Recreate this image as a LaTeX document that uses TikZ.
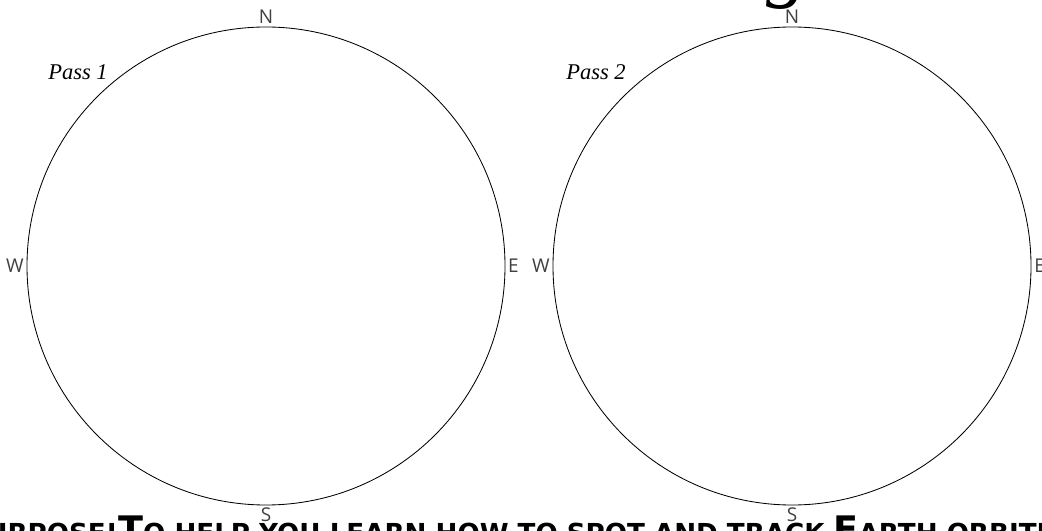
\documentclass[tikz,border=0pt]{standalone}
\usepackage{fontspec}
\setmainfont{Liberation Serif}
\setsansfont{Open Sans}
\newfontfamily\headfont{DejaVu Sans}
\usetikzlibrary{positioning}
\tikzset{
  dial/.style={circle, draw, line width=0.6pt, minimum size=11.95cm, inner sep=0pt},
  compass/.style={font=\sffamily\fontsize{13.5}{13.5}\selectfont, text=black!75, inner sep=1.8pt},
  passlabel/.style={font=\itshape\fontsize{16}{16}\selectfont, inner sep=0pt},
  headline/.style={font=\headfont\bfseries, inner sep=0pt}
}
\newcommand{\headcap}[1]{{\fontsize{26}{26}\selectfont #1}}
\newcommand{\headsmall}[1]{{\fontsize{18.6}{18.6}\selectfont #1}}
\begin{document}
\begin{tikzpicture}
  \useasboundingbox (0,0) rectangle (26.05,13.25);

  % the two sky dials
  \node[dial] (dialA) at (6.65,6.6) {};
  \node[dial] (dialB) at (19.8,6.6) {};

  \foreach \d in {dialA,dialB} {
    \node[compass, anchor=south] (\d N) at (\d.north) {N};
    \node[compass, anchor=north] (\d S) at (\d.south) {S};
    \node[compass, anchor=east]  (\d W) at (\d.west)  {W};
    \node[compass, anchor=west]  (\d E) at (\d.east)  {E};
  }

  \node[passlabel] (passA) at (1.95,11.45) {Pass 1};
  \node[passlabel] (passB) at (14.9,11.45) {Pass 2};

  % cut-off glyph above, cut-off heading below
  \node[font=\itshape\fontsize{60}{60}\selectfont, anchor=base, inner sep=0pt] (topglyph) at (19.7,13.45) {g};
  \node[headline, anchor=base west] (aim) at (2.95,-0.3)
    {\headcap{T}\headsmall{O HELP YOU LEARN HOW TO SPOT AND TRACK }\headcap{E}\headsmall{ARTH ORBITING SATELLITES}};
  \node[headline, anchor=base east] (purpose) at (aim.base west)
    {\headcap{P}\headsmall{URPOSE! }};
\end{tikzpicture}
\end{document}
